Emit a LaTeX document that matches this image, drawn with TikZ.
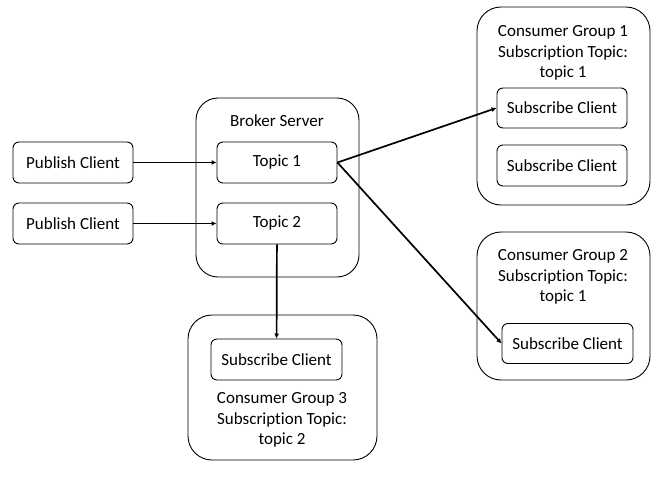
\documentclass[tikz,border=0pt]{standalone}
\usepackage{fontspec}
\setmainfont{Carlito}[Ligatures=NoCommon]
\usepackage{tikz}
\usetikzlibrary{arrows.meta}

\begin{document}
\begin{tikzpicture}[x=1pt, y=-1pt, every node/.style={font=\fontsize{17}{20.5}\selectfont},
            outerbox/.style={draw, rounded corners=24pt, line width=0.9pt, inner sep=0pt},
            innerbox/.style={draw, rounded corners=6pt, line width=0.9pt, inner sep=0pt, minimum height=41pt},
            flow/.style={line width=1.7pt, -{Latex[length=5pt, width=5pt]}}]
            \useasboundingbox (0,0) rectangle (662,477);
            % outer boxes
            \node[outerbox, rounded corners=22pt, minimum width=163pt, minimum height=179pt] (broker) at (277.5,187.5) {};
            \node[outerbox, minimum width=173pt, minimum height=198pt] (grpA) at (563.5,106) {};
            \node[outerbox, minimum width=173pt, minimum height=148pt] (grpB) at (563.5,306) {};
            \node[outerbox, minimum width=189pt, minimum height=145pt] (grpC) at (282.5,387.5) {};
            % labels of outer boxes
            \node (brokerlbl) at (277,121) {Broker Server};
            \node[align=center] (grpAlbl) at (563,53) {Consumer Group 1\\Subscription Topic:\\topic 1};
            \node[align=center] (grpBlbl) at (563,277) {Consumer Group 2\\Subscription Topic:\\topic 1};
            \node[align=center] (grpClbl) at (282,420) {Consumer Group 3\\Subscription Topic:\\topic 2};
            % inner boxes
            \node[innerbox, minimum width=120pt] (pub1) at (73,162.5) {Publish Client};
            \node[innerbox, minimum width=120pt] (pub2) at (73,223.5) {Publish Client};
            \node[innerbox, minimum width=120pt] (top1) at (277,162.5) {Topic 1};
            \node[innerbox, minimum width=120pt] (top2) at (277,223.5) {Topic 2};
            \node[innerbox, minimum width=130pt, minimum height=40pt] (subA1) at (562,108) {Subscribe Client};
            \node[innerbox, minimum width=130pt] (subA2) at (562,165.5) {Subscribe Client};
            \node[innerbox, minimum width=131pt, minimum height=40pt] (subB) at (567.5,343.5) {Subscribe Client};
            \node[innerbox, minimum width=131pt] (subC) at (276.5,359.5) {Subscribe Client};
            % arrows
            \draw[flow] (pub1) -- (top1);
            \draw[flow] (pub2) -- (top2);
            \draw[flow] (top1.east) -- (subA1.west);
            \draw[flow] (top1.east) -- (subB.west);
            \draw[flow] (top2) -- (subC);
        \end{tikzpicture}
\end{document}
